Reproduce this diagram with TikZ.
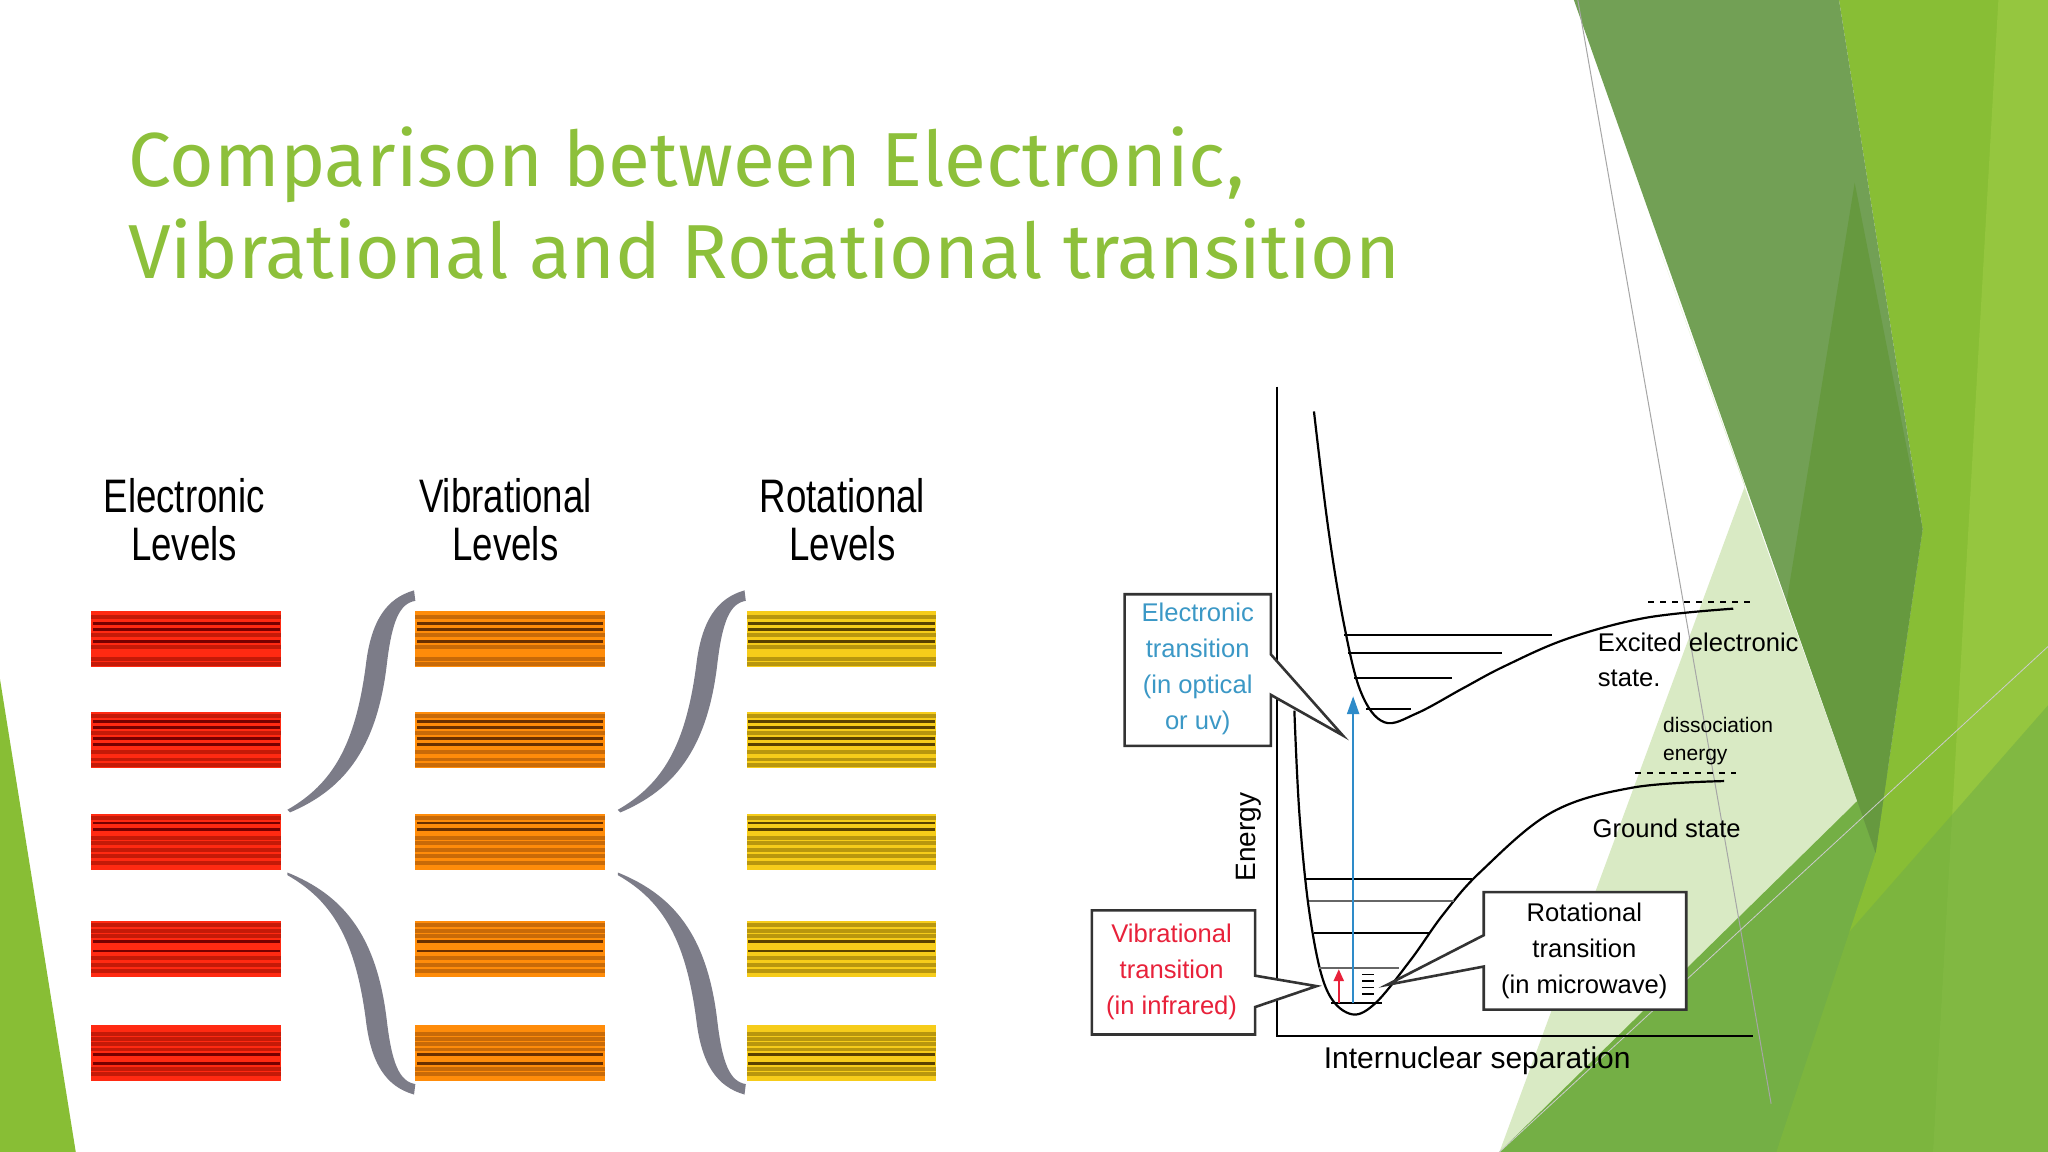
\documentclass[tikz,border=0pt]{standalone}
\usepackage{fontspec}
\setmainfont{Liberation Sans}
\newfontfamily\titlefont{Fira Sans}
\usetikzlibrary{arrows.meta}
\definecolor{titlegreen}{HTML}{8DC03B}
\definecolor{gdark}{HTML}{72A055}
\definecolor{gdeep}{HTML}{66993F}
\definecolor{gbright}{HTML}{88BE35}
\definecolor{gbright2}{HTML}{95C63F}
\definecolor{gpale}{HTML}{D9EAC4}
\definecolor{gmid}{HTML}{74AF45}
\definecolor{bracegray}{HTML}{7C7C88}
\definecolor{etblue}{HTML}{3B98C6}
\definecolor{vtred}{HTML}{E8213A}
\definecolor{arrblue}{HTML}{2E8BC9}
\definecolor{rbase}{HTML}{FF2A12}\definecolor{rmid}{HTML}{C41A08}\definecolor{rdark}{HTML}{760000}
\definecolor{obase}{HTML}{FF8C0A}\definecolor{omid}{HTML}{C86A08}\definecolor{odark}{HTML}{6A3000}
\definecolor{ybase}{HTML}{F6CC1A}\definecolor{ymid}{HTML}{B8960E}\definecolor{ydark}{HTML}{5A4200}
\newcommand\lvlbox[7]{%
  \fill[#3] (#1,#2) rectangle ++(145,43);
  \foreach \o in {#7} {\fill[#4] (#1,#2+\o) rectangle ++(145,3);}
  \foreach \o in {#6} {\fill[#5] (#1+1,#2+\o) rectangle ++(143,2.2);}
}
\tikzset{
  heading/.style={align=center,font=\fontsize{23.5}{24}\selectfont,xscale=0.78},
  boxtxt/.style={align=center,font=\fontsize{12.8}{18}\selectfont},
  lbl/.style={align=left,anchor=west,font=\fontsize{12.8}{17.5}\selectfont},
  callout/.style={fill=white,draw=black!80,line width=1.3pt,line join=miter},
  lvl/.style={line width=1pt,black},
  brace/.style={fill=bracegray}
}
\begin{document}
\begin{tikzpicture}[x=0.6531pt,y=-0.6531pt]
\useasboundingbox (0,0) rectangle (1568,882);
\fill[white] (0,0) rectangle (1568,882);
% background shapes
\fill[gpale] (1269,186) -- (1436,653) -- (1148,882) -- (1336,372) -- cycle;
\fill[gmid] (1148,882) -- (1568,470) -- (1568,882) -- cycle;
\fill[gbright] (1408,0) -- (1568,0) -- (1568,882) -- (1360,882) -- (1436,653) -- (1472,405) -- cycle;
\fill[gbright2] (1530,0) -- (1568,0) -- (1568,882) -- (1480,882) -- cycle;
\fill[gdark] (1205,0) -- (1408,0) -- (1472,405) -- (1436,653) -- cycle;
\fill[gdeep] (1420,140) -- (1472,405) -- (1436,653) -- (1368,460) -- cycle;
\fill[gmid,opacity=0.6] (1340,800) -- (1568,540) -- (1568,882) -- (1300,882) -- cycle;
\draw[gray!70,line width=0.5pt] (1208,0) -- (1356,845);
\draw[gray!40,line width=0.4pt] (1148,882) -- (1568,495);
\fill[gbright] (0,520) -- (58,882) -- (0,882) -- cycle;
% title
\node[anchor=base west,text=titlegreen,font=\titlefont\fontsize{38.3}{40}\selectfont,inner sep=0] (t1) at (98,143) {Comparison between Electronic,};
\node[anchor=base west,text=titlegreen,font=\titlefont\fontsize{38.3}{40}\selectfont,inner sep=0] (t2) at (98,213) {Vibrational and Rotational transition};
% headings
\node[heading] (h1) at (141,398) {Electronic\\Levels};
\node[heading] (h2) at (387,398) {Vibrational\\Levels};
\node[heading] (h3) at (645,398) {Rotational\\Levels};
% level boxes
\foreach \c/\x in {r/70,o/318,y/572}{
  \lvlbox{\x}{468}{\c base}{\c mid}{\c dark}{8,13,22}{3,17,26,35,39}
  \lvlbox{\x}{545}{\c base}{\c mid}{\c dark}{6,11,19,24}{2,15,29,35,39}
  \lvlbox{\x}{623}{\c base}{\c mid}{\c dark}{6,11}{2,17,21,26,31,36}
  \lvlbox{\x}{705}{\c base}{\c mid}{\c dark}{15,22}{2,6,10,27,32,37}
  \lvlbox{\x}{785}{\c base}{\c mid}{\c dark}{21,28}{5,9,13,17,32,36}
}
% braces
\foreach \bx in {0,253}{
\begin{scope}[xshift=\bx*0.6531pt]
\fill[brace] (220,620) .. controls (255,600) and (272,570) .. (280,510)
  .. controls (284,475) and (296,458) .. (317,452) -- (318,460)
  .. controls (306,462) and (300,475) .. (296,510)
  .. controls (288,575) and (262,605) .. (222,622) -- cycle;
\fill[brace] (220,668) .. controls (262,685) and (288,715) .. (296,780)
  .. controls (300,815) and (306,828) .. (318,830) -- (317,838)
  .. controls (296,832) and (284,815) .. (280,780)
  .. controls (272,720) and (255,690) .. (220,670) -- cycle;
\end{scope}}
% right diagram axes
\coordinate (ay) at (978,296); \coordinate (ao) at (978,793); \coordinate (ax) at (1342,793);
\draw[line width=1pt] (ay) -- (ao) -- (ax);
% excited curve
\draw[line width=1.1pt] plot[smooth,tension=0.6] coordinates {(1006,315) (1017,405) (1029,478) (1042,530) (1060,553) (1085,546) (1120,527) (1152,510) (1200,489) (1260,473) (1327,466)};
\foreach \y/\a/\b in {486/1029/1188,500/1032/1150,519/1037/1112,543/1046/1080}{\draw[lvl] (\a,\y) -- (\b,\y);}
\draw[dashed,line width=1pt] (1262,461) -- (1340,461);
% ground curve
\draw[line width=1.1pt] plot[smooth,tension=0.6] coordinates {(991,544) (995,625) (1003,702) (1015,756) (1033,776) (1052,769) (1080,735) (1105,700) (1134,667) (1188,622) (1250,603) (1320,598)};
\foreach \y/\a/\b/\c in {673/999/1127/black,690/1002/1113/black!60,714/1006/1094/black,741/1010/1071/black!60,768/1019/1058/black}{\draw[lvl,\c] (\a,\y) -- (\b,\y);}
\draw[dashed,line width=1pt] (1252,592) -- (1329,592);
% arrows
\coordinate (eb) at (1036,768); \coordinate (et) at (1036,533);
\draw[arrblue,line width=1.2pt,-{Triangle[length=9pt,width=6pt]}] (eb) -- (et);
\coordinate (vb) at (1025,768); \coordinate (vt) at (1025,742);
\draw[vtred,line width=1.2pt,-{Triangle[length=6pt,width=5pt]}] (vb) -- (vt);
\foreach \y in {746,751,756,761}{\draw[line width=0.7pt] (1043,\y) -- (1052,\y);}
% callouts
\draw[callout] (861,455) -- (973,455) -- (973,501) -- (1028,563) -- (973,532) -- (973,571) -- (861,571) -- cycle;
\node[boxtxt,text=etblue] (et1) at (917,512) {Electronic\\transition\\(in optical\\or uv)};
\draw[callout] (836,697) -- (961,697) -- (961,747) -- (1008,755) -- (961,771) -- (961,792) -- (836,792) -- cycle;
\node[boxtxt,text=vtred] (vt1) at (897,744) {Vibrational\\transition\\(in infrared)};
\draw[callout] (1136,683) -- (1291,683) -- (1291,773) -- (1136,773) -- (1136,740) -- (1062,754) -- (1136,716) -- cycle;
\node[boxtxt] (rt1) at (1213,728) {Rotational\\transition\\(in microwave)};
% labels
\node[rotate=90,font=\fontsize{14}{16}\selectfont] (en) at (956,641) {Energy};
\node[font=\fontsize{15}{18}\selectfont] (isep) at (1131,812) {Internuclear separation};
\node[lbl] (exc) at (1218,505) {Excited electronic\\state.};
\node[lbl,font=\fontsize{10.5}{14}\selectfont] (dis) at (1268,567) {dissociation\\energy};
\node[lbl] (gs) at (1214,634) {Ground state};
\end{tikzpicture}
\end{document}
